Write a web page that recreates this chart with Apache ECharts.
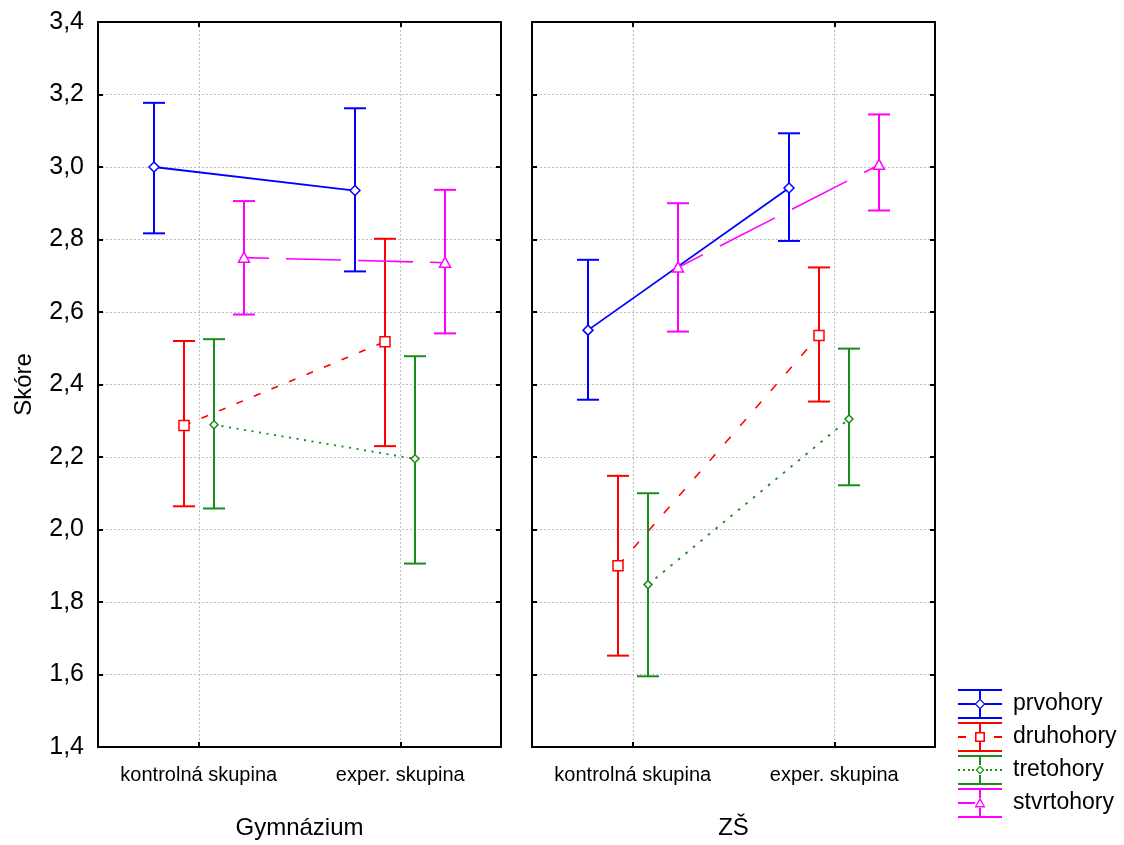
<!DOCTYPE html>
<html>
<head>
<meta charset="utf-8">
<script src="https://cdn.jsdelivr.net/npm/echarts@6/dist/echarts.min.js"></script>
<style>
html,body{margin:0;padding:0;background:#fff;}
#chart{width:1124px;height:845px;}
</style>
</head>
<body>
<div id="chart"></div>
<script>
// ---------- DATA ----------
const categories = ['kontrolná skupina', 'exper. skupina'];
const panelNames = ['Gymnázium', 'ZŠ'];
const seriesNames = ['prvohory', 'druhohory', 'tretohory', 'stvrtohory'];
const yMin = 1.4, yMax = 3.4, yStep = 0.2;

// each row: [mean, lower, upper] for kontrolná skupina, exper. skupina
const gymPrvohory   = [[3.000, 2.817, 3.177], [2.935, 2.712, 3.162]];
const gymDruhohory  = [[2.287, 2.064, 2.520], [2.518, 2.230, 2.802]];
const gymTretohory  = [[2.289, 2.058, 2.525], [2.195, 1.906, 2.478]];
const gymStvrtohory = [[2.750, 2.593, 2.906], [2.736, 2.541, 2.937]];

const zsPrvohory    = [[2.550, 2.358, 2.744], [2.942, 2.796, 3.093]];
const zsDruhohory   = [[1.900, 1.652, 2.148], [2.535, 2.353, 2.723]];
const zsTretohory   = [[1.848, 1.595, 2.100], [2.305, 2.122, 2.499]];
const zsStvrtohory  = [[2.723, 2.546, 2.900], [3.006, 2.880, 3.145]];

const panelData = [
  [gymPrvohory, gymDruhohory, gymTretohory, gymStvrtohory],
  [zsPrvohory, zsDruhohory, zsTretohory, zsStvrtohory]
];

// ---------- STYLE ----------
const FONT = 'Liberation Sans, Arial, sans-serif';
const COLORS = ['#0000ff', '#ff0000', '#1a8c1a', '#ff00ff'];
const OFFSETS = [-45, -15, 15, 45];
const DASHES = [null, [6.5, 11], [2, 5.5], [55, 17]];   // in major-axis pixels
const DASH_OFFSET = [0, 0, 0, 30];
const LINE_W = [1.8, 1.6, 1.8, 1.6];
const MARKERS = ['diamond', 'square', 'smalldiamond', 'triangle'];
const CAP = 11;

function markerShape(kind, x, y, color) {
  const style = { fill: '#fff', stroke: color, lineWidth: 1.5 };
  if (kind === 'square') return { type: 'rect', shape: { x: x - 5, y: y - 5, width: 10, height: 10 }, style };
  if (kind === 'triangle') return { type: 'polygon', shape: { points: [[x, y - 5.5], [x + 5.5, y + 4.5], [x - 5.5, y + 4.5]] }, style };
  const r = kind === 'diamond' ? 5 : 4;
  return { type: 'polygon', shape: { points: [[x, y - r], [x + r, y], [x, y + r], [x - r, y]] }, style };
}

function makeRenderItem(rows, s) {
  const color = COLORS[s], off = OFFSETS[s];
  return function (params, api) {
    const i = params.dataIndex;
    const c = api.value(0);
    const pm = api.coord([c, api.value(1)]);
    const pl = api.coord([c, api.value(2)]);
    const ph = api.coord([c, api.value(3)]);
    const x = Math.round(pm[0] + off);
    const children = [];
    if (i + 1 < rows.length) {
      const pn = api.coord([i + 1, rows[i + 1][0]]);
      const x2 = Math.round(pn[0] + off), y2 = pn[1];
      const dx = x2 - x, dy = y2 - pm[1];
      const k = Math.hypot(dx, dy) / Math.max(Math.abs(dx), Math.abs(dy));
      const dash = DASHES[s] ? DASHES[s].map(d => d * k) : null;
      children.push({
        type: 'line', z2: 1,
        shape: { x1: x, y1: pm[1], x2: x2, y2: y2 },
        style: { stroke: color, lineWidth: LINE_W[s], lineDash: dash, lineDashOffset: DASH_OFFSET[s] * k, fill: null }
      });
    }
    const barStyle = { stroke: color, lineWidth: 2 };
    children.push({ type: 'line', z2: 2, shape: { x1: x, y1: pl[1], x2: x, y2: ph[1] }, style: barStyle });
    children.push({ type: 'line', z2: 2, shape: { x1: x - CAP, y1: ph[1], x2: x + CAP, y2: ph[1] }, style: barStyle });
    children.push({ type: 'line', z2: 2, shape: { x1: x - CAP, y1: pl[1], x2: x + CAP, y2: pl[1] }, style: barStyle });
    const mk = markerShape(MARKERS[s], x, pm[1], color);
    mk.z2 = 3;
    children.push(mk);
    return { type: 'group', children };
  };
}

// legend icons (44 x 30 box)
function legendIcon(s) {
  const cx = 22, cy = 15;
  let p = 'M0 0H44V2H0Z M0 28H44V30H0Z ';
  const r = 5, ri = 3.4;
  p += `M21 2H23V${cy - r}H21Z M21 ${cy + r}H23V28H21Z `;
  if (s === 0) p += `M0 14H${cx - r}V16H0Z M${cx + r} 14H44V16H${cx + r}Z `;
  if (s === 1) p += 'M0 14H8V16H0Z M36 14H44V16H36Z ';
  if (s === 2) {
    [0, 5, 10, 14].forEach(d => { p += `M${d} 14H${d + 2}V16H${d}Z `; });
    [28, 32, 37, 42].forEach(d => { p += `M${d} 14H${d + 2}V16H${d}Z `; });
  }
  if (s === 3) p += `M0 14H${cx - r}V16H0Z `;
  if (s === 0 || s === 2) {
    const R = s === 0 ? 5.5 : 4.5, Ri = R - 1.7;
    p += `M${cx} ${cy - R}L${cx + R} ${cy}L${cx} ${cy + R}L${cx - R} ${cy}Z `;
    p += `M${cx} ${cy - Ri}L${cx - Ri} ${cy}L${cx} ${cy + Ri}L${cx + Ri} ${cy}Z`;
  } else if (s === 1) {
    p += `M${cx - r} ${cy - r}H${cx + r}V${cy + r}H${cx - r}Z `;
    p += `M${cx - ri} ${cy - ri}V${cy + ri}H${cx + ri}V${cy - ri}Z`;
  } else {
    p += `M${cx} ${cy - 5.5}L${cx + 5.5} ${cy + 4.5}L${cx - 5.5} ${cy + 4.5}Z `;
    p += `M${cx} ${cy - 2.6}L${cx - 3.4} ${cy + 3}L${cx + 3.4} ${cy + 3}Z`;
  }
  return 'path://' + p;
}

// ---------- CHART ----------
const chart = echarts.init(document.getElementById('chart'), null, { renderer: 'canvas' });
const gridLine = { show: true, lineStyle: { color: '#bdbdbd', width: 1, type: [2, 2] } };
const border = { show: true, onZero: false, lineStyle: { color: '#000', width: 2 } };
const ticks = { show: true, inside: true, length: 5, lineStyle: { color: '#000', width: 2 } };
const fmt = v => v.toFixed(1).replace('.', ',');

const grids = [
  { left: 98, top: 22, width: 403, height: 730 },
  { left: 532, top: 22, width: 403, height: 730 }
];

const xAxes = [], yAxes = [], series = [];
grids.forEach((g, gi) => {
  xAxes.push({
    type: 'category', gridIndex: gi, position: 'bottom', data: categories, boundaryGap: true,
    axisLine: border, axisTick: Object.assign({ alignWithLabel: true }, ticks),
    axisLabel: { show: true, interval: 0, margin: 18, fontSize: 20, color: '#000', fontFamily: FONT },
    splitLine: Object.assign({ alignWithLabel: true, interval: 0 }, gridLine),
    name: panelNames[gi], nameLocation: 'middle', nameGap: 69,
    nameTextStyle: { fontSize: 24, color: '#000', fontFamily: FONT }
  });
  xAxes.push({
    type: 'category', gridIndex: gi, position: 'top', data: categories, boundaryGap: true,
    axisLine: border, axisTick: Object.assign({ alignWithLabel: true }, ticks),
    axisLabel: { show: false }, splitLine: { show: false }
  });
  yAxes.push({
    type: 'value', gridIndex: gi, position: 'left', min: yMin, max: yMax, interval: yStep,
    axisLine: border, axisTick: ticks,
    axisLabel: { show: gi === 0, margin: 14, fontSize: 25, color: '#000', fontFamily: FONT, formatter: fmt },
    splitLine: gridLine,
    name: gi === 0 ? 'Skóre' : '', nameLocation: 'middle', nameGap: 62,
    nameTextStyle: { fontSize: 24, color: '#000', fontFamily: FONT }
  });
  yAxes.push({
    type: 'value', gridIndex: gi, position: 'right', min: yMin, max: yMax, interval: yStep,
    axisLine: border, axisTick: ticks, axisLabel: { show: false }, splitLine: { show: false }
  });
  panelData[gi].forEach((rows, s) => {
    series.push({
      type: 'custom', name: seriesNames[s],
      xAxisIndex: gi * 2, yAxisIndex: gi * 2,
      itemStyle: { color: COLORS[s] },
      encode: { x: 0, y: [1, 2, 3] },
      data: rows.map((r, ci) => [categories[ci], r[0], r[1], r[2]]),
      renderItem: makeRenderItem(rows, s),
      z: 10 + s, silent: true
    });
  });
});

chart.setOption({
  animation: false,
  backgroundColor: '#fff',
  textStyle: { fontFamily: FONT },
  grid: grids,
  xAxis: xAxes,
  yAxis: yAxes,
  legend: {
    orient: 'vertical', left: 958, top: 689, padding: 0,
    itemWidth: 44, itemHeight: 30, itemGap: 3, selectedMode: false,
    textStyle: { fontSize: 23, color: '#000', fontFamily: FONT, padding: [0, 0, 0, 6] },
    data: seriesNames.map((n, i) => ({ name: n, icon: legendIcon(i), itemStyle: { color: COLORS[i], borderWidth: 0 } }))
  },
  series: series
});
</script>
</body>
</html>
